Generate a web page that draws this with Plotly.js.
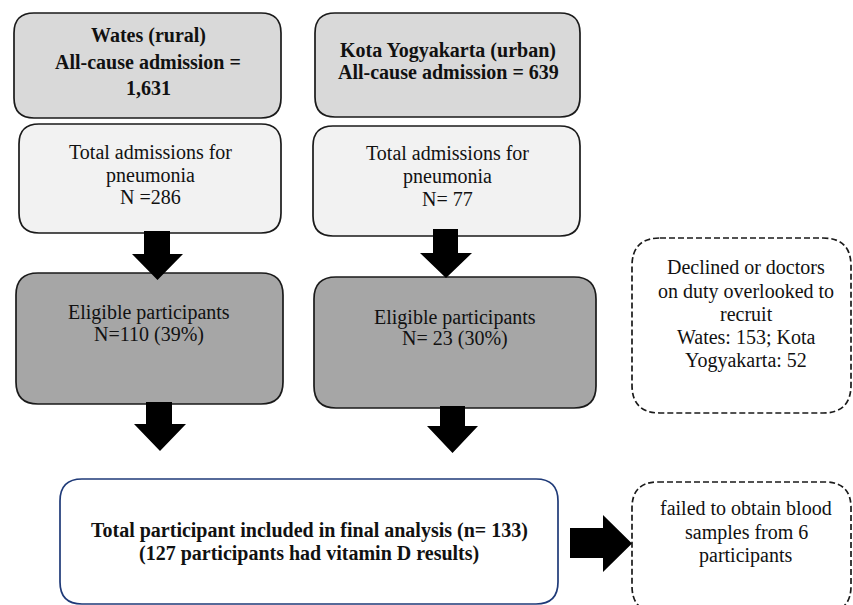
<!DOCTYPE html>
<html>
<head>
<meta charset="utf-8">
<script src="https://cdn.plot.ly/plotly-3.0.1.min.js"></script>
<style>html,body{margin:0;padding:0;background:#fff;}#chart{width:853px;height:605px;}</style>
</head>
<body>
<div id="chart"></div>
<script>
// ---- Data: text of each box (one entry per line) ----
const watesHeader = ["Wates (rural)", "All-cause admission =", "1,631"];
const kotaHeader = ["Kota Yogyakarta (urban)", "All-cause admission = 639"];
const watesPneumonia = ["Total admissions for", "pneumonia", "N =286"];
const kotaPneumonia = ["Total admissions for", "pneumonia", "N= 77"];
const watesEligible = ["Eligible participants", "N=110 (39%)"];
const kotaEligible = ["Eligible participants", "N= 23 (30%)"];
const declinedText = ["Declined or doctors", "on duty overlooked to", "recruit", "Wates: 153; Kota", "Yogyakarta: 52"];
const finalText = ["Total participant included in final analysis (n= 133)", "(127 participants had vitamin D results)"];
const failedText = ["failed to obtain blood", "samples from 6", "participants"];

// ---- Layout geometry (pixels, y downward) ----
const boxes = [
  {x0:19, y0:124, x1:281, y1:233, r:20, fill:'#f2f2f2', line:'#1a1a1a', dash:'solid', lines:watesPneumonia, bold:false, cx:150, ys:[152,175,197]},
  {x0:16, y0:273, x1:283, y1:404, r:22, fill:'#a6a6a6', line:'#1a1a1a', dash:'solid', lines:watesEligible, bold:false, cx:149, ys:[312,334]},
  {x0:313, y0:126, x1:580, y1:236, r:20, fill:'#f2f2f2', line:'#1a1a1a', dash:'solid', lines:kotaPneumonia, bold:false, cx:447, ys:[153,176,199]},
  {x0:314, y0:277, x1:596, y1:408, r:22, fill:'#a6a6a6', line:'#1a1a1a', dash:'solid', lines:kotaEligible, bold:false, cx:455, ys:[317,338]},
  {x0:632, y0:238, x1:851, y1:413, r:28, fill:'rgba(0,0,0,0)', line:'#1a1a1a', dash:'6px,3px', lines:declinedText, bold:false, cx:746, ys:[267,291,314,337,360]},
  {x0:632, y0:482, x1:851, y1:612, r:26, fill:'rgba(0,0,0,0)', line:'#1a1a1a', dash:'6px,3px', lines:failedText, bold:false, cx:746, ys:[508,532,555]},
  {x0:14, y0:13, x1:281, y1:118, r:20, fill:'#d9d9d9', line:'#1a1a1a', dash:'solid', lines:watesHeader, bold:true, cx:148, ys:[35,62,88]},
  {x0:315, y0:13, x1:580, y1:117, r:20, fill:'#d9d9d9', line:'#1a1a1a', dash:'solid', lines:kotaHeader, bold:true, cx:448, ys:[50,72]},
  {x0:60, y0:479, x1:558, y1:604, r:22, fill:'#ffffff', line:'#1f3a78', dash:'solid', lines:finalText, bold:true, cx:309, ys:[530,553]}
];
// down arrows: shaft x0,x1, top, head start, head x0,x1, tip
const downArrows = [
  {sx0:144, sx1:170, top:231, hy:254, hx0:132, hx1:183, tip:280},
  {sx0:146, sx1:172, top:402, hy:424, hx0:134, hx1:186, tip:451},
  {sx0:433, sx1:458, top:229, hy:253, hx0:420, hx1:472, tip:278},
  {sx0:440, sx1:465, top:406, hy:426, hx0:427, hx1:478, tip:453}
];
const rightArrow = {sy0:528, sy1:558, left:570, hx:603, hy0:515, hy1:572, tip:632};

const FONT = 'Liberation Serif';

function roundedPath(b){
  const {x0,y0,x1,y1,r} = b;
  return `M ${x0+r},${y0} L ${x1-r},${y0} Q ${x1},${y0} ${x1},${y0+r} L ${x1},${y1-r} Q ${x1},${y1} ${x1-r},${y1} L ${x0+r},${y1} Q ${x0},${y1} ${x0},${y1-r} L ${x0},${y0+r} Q ${x0},${y0} ${x0+r},${y0} Z`;
}

const shapes = [];
const annotations = [];
boxes.forEach(b => {
  shapes.push({type:'path', xref:'x', yref:'y', path:roundedPath(b), fillcolor:b.fill,
    line:{color:b.line, width:1.7, dash:b.dash}, layer:'below'});
  b.lines.forEach((t,i) => {
    annotations.push({xref:'x', yref:'y', x:b.cx, y:b.ys[i], text: b.bold ? '<b>'+t+'</b>' : t,
      showarrow:false, xanchor:'center', yanchor:'middle',
      font:{family:FONT, size:20, color:'#111', weight: b.bold ? 'bold' : 'normal'}});
  });
});
downArrows.forEach(a => {
  const mid = (a.hx0 + a.hx1)/2;
  shapes.push({type:'path', xref:'x', yref:'y',
    path:`M ${a.sx0},${a.top} L ${a.sx1},${a.top} L ${a.sx1},${a.hy} L ${a.hx1},${a.hy} L ${mid},${a.tip} L ${a.hx0},${a.hy} L ${a.sx0},${a.hy} Z`,
    fillcolor:'#000', line:{width:0}, layer:'above'});
});
{
  const a = rightArrow, mid = (a.hy0 + a.hy1)/2;
  shapes.push({type:'path', xref:'x', yref:'y',
    path:`M ${a.left},${a.sy0} L ${a.hx},${a.sy0} L ${a.hx},${a.hy0} L ${a.tip},${mid} L ${a.hx},${a.hy1} L ${a.hx},${a.sy1} L ${a.left},${a.sy1} Z`,
    fillcolor:'#000', line:{width:0}, layer:'above'});
}

const layout = {
  width:853, height:605,
  margin:{l:0, r:0, t:0, b:0, pad:0},
  paper_bgcolor:'#ffffff', plot_bgcolor:'#ffffff',
  font:{family:FONT, size:20, color:'#111'},
  xaxis:{range:[0,853], visible:false, fixedrange:true},
  yaxis:{range:[605,0], visible:false, fixedrange:true},
  showlegend:false,
  shapes:shapes,
  annotations:annotations
};
Plotly.newPlot('chart', [], layout, {staticPlot:true, displayModeBar:false});
</script>
</body>
</html>
